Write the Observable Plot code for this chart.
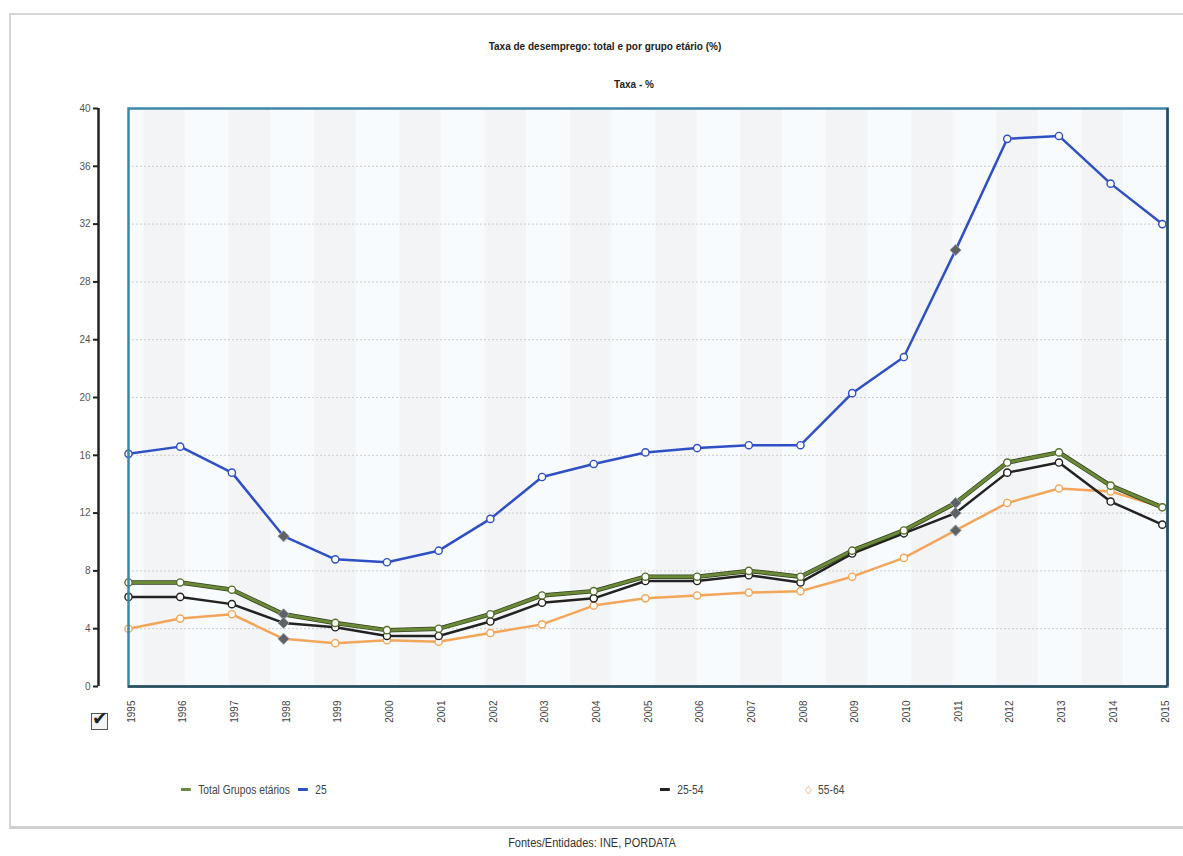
<!DOCTYPE html>
<html><head><meta charset="utf-8">
<script src="https://cdn.jsdelivr.net/npm/d3@7"></script>
<script src="https://cdn.jsdelivr.net/npm/@observablehq/plot@0.6"></script>
<style>
body{margin:0;background:#fff;font-family:"Liberation Sans",Arial,sans-serif;}
#wrap{position:relative;width:1183px;height:856px;overflow:hidden;background:#fff}
#box{position:absolute;left:9px;top:13px;width:1185px;height:816px;border:2px solid #d6d6d6;border-bottom:3px solid #cfcfcf;box-sizing:border-box}
#chart{position:absolute;left:0;top:0}
.t{position:absolute;white-space:nowrap;color:#222;font-weight:bold;font-size:10px;transform:translateX(-50%)}
#legend span.item{position:absolute;top:783px;font-family:"Liberation Sans",Arial,sans-serif;font-size:12.5px;color:#444;white-space:nowrap;transform:scaleX(0.82);transform-origin:left center}
.sw{display:inline-block;width:12px;height:3px;vertical-align:middle;margin-right:9px;position:relative;top:-1px}
#src{position:absolute;top:836px;left:592px;transform:translateX(-50%) scaleX(0.88);font-family:"Liberation Sans",Arial,sans-serif;font-size:12.5px;color:#333;white-space:nowrap}
#chk{position:absolute;left:91px;top:713px;width:15px;height:15px;border:1.5px solid #555;background:#f4f4f4}
#chk b{position:absolute;left:0px;top:-7px;font-family:"DejaVu Sans",sans-serif;font-size:19px;color:#222;font-weight:normal}
</style></head>
<body>
<div id="wrap">
  <div id="box"></div>
  <div id="chart"></div>
  <div class="t" style="left:605px;top:41px">Taxa de desemprego: total e por grupo etário (%)</div>
  <div class="t" style="left:634px;top:79px">Taxa - %</div>
  <div id="chk"><b>✔</b></div>
  <div id="legend"></div>
  <div id="src">Fontes/Entidades: INE, PORDATA</div>
</div>
<script>
// ---- data ----
const years = [1995,1996,1997,1998,1999,2000,2001,2002,2003,2004,2005,2006,2007,2008,2009,2010,2011,2012,2013,2014,2015];
const totalGrupos = [7.2,7.2,6.7,5.0,4.4,3.9,4.0,5.0,6.3,6.6,7.6,7.6,8.0,7.6,9.4,10.8,12.7,15.5,16.2,13.9,12.4];
const menos25 = [16.1,16.6,14.8,10.4,8.8,8.6,9.4,11.6,14.5,15.4,16.2,16.5,16.7,16.7,20.3,22.8,30.2,37.9,38.1,34.8,32.0];
const idade25_54 = [6.2,6.2,5.7,4.4,4.1,3.5,3.5,4.5,5.8,6.1,7.3,7.3,7.7,7.2,9.2,10.6,12.0,14.8,15.5,12.8,11.2];
const idade55_64 = [4.0,4.7,5.0,3.3,3.0,3.2,3.1,3.7,4.3,5.6,6.1,6.3,6.5,6.6,7.6,8.9,10.8,12.7,13.7,13.5,12.4];
const seriesNames = ["Total Grupos etários","25","25-54","55-64"];
const yTicks = [0,4,8,12,16,20,24,28,32,36,40];
const highlightYears = [1998, 2011];

// ---- styling ----
const colors = {"Total Grupos etários":"#6a8a38","25":"#2f4fc4","25-54":"#222222","55-64":"#f2a65a"};
const widths = {"Total Grupos etários":3,"25":2.5,"25-54":2.5,"55-64":2.5};
const valuesBySeries = [totalGrupos, menos25, idade25_54, idade55_64];

const rows = [];
seriesNames.forEach((s, i) => years.forEach((y, j) => rows.push({series: s, year: y, value: valuesBySeries[i][j]})));

const drawOrder = ["55-64","25-54","Total Grupos etários","25"];
const bands = d3.range(12).map(i => ({x1: 1995.3 + i*1.65, x2: 1995.3 + i*1.65 + 0.8})).filter(b => b.x2 < 2015.1);

const lineMarks = [];
for (const s of drawOrder) {
  const d = rows.filter(r => r.series === s);
  if (s === "Total Grupos etários") lineMarks.push(Plot.line(d, {x:"year", y:"value", stroke:"#33401f", strokeWidth:4.5}));
  lineMarks.push(Plot.line(d, {x:"year", y:"value", stroke: colors[s], strokeWidth: widths[s]}));
}
const dotMarks = [];
for (const s of drawOrder) {
  const d = rows.filter(r => r.series === s && !highlightYears.includes(r.year));
  dotMarks.push(Plot.dot(d, {x:"year", y:"value", r:3.6, fill:"white", stroke: s === "Total Grupos etários" ? "#55702c" : colors[s], strokeWidth:1.4}));
}
const hl = rows.filter(r => highlightYears.includes(r.year));

const chart = Plot.plot({
  width: 1183,
  height: 760,
  marginLeft: 128,
  marginRight: 16,
  marginTop: 108,
  marginBottom: 74,
  style: {background: "transparent", fontFamily: "'Liberation Sans', Arial, sans-serif", fontSize: "10px", color: "#555"},
  x: {domain: [1995, 2015.1], axis: null},
  y: {domain: [0, 40], axis: null},
  marks: [
    Plot.frame({fill: "#f8fbfd"}),
    Plot.rect(bands, {x1:"x1", x2:"x2", y1:0, y2:40, fill:"#ebebeb", fillOpacity:0.4}),
    Plot.ruleY(yTicks.filter(d => d > 0 && d < 40), {stroke:"#cccccc", strokeDasharray:"2,2", strokeWidth:1}),
    ...lineMarks,
    ...dotMarks,
    Plot.dot(hl, {x:"year", y:"value", symbol:"diamond2", r:5, fill:"#5e6166", stroke:"#9a9da2", strokeWidth:1}),
    Plot.frame({stroke:"#3f87a8", strokeWidth:2.5}),
    Plot.ruleY([0], {x1:1995, x2:2015.1, stroke:"#2c4d5c", strokeWidth:2.5}),
    Plot.ruleX([2015.1], {y1:0, y2:40, stroke:"#2c4d5c", strokeWidth:2.5}),
    Plot.ruleX([1995], {y1:0, y2:40, dx:-30, stroke:"#222", strokeWidth:2.5}),
    Plot.axisY({ticks: yTicks, label: null, dx:-30, tickSize:5, tickPadding:3, stroke:"#222", strokeWidth:2, fill:"#555", fontSize:10}),
    Plot.axisX({ticks: years, label: null, tickFormat: d => String(d), tickRotate:-90, tickSize:0, tickPadding:14, dx:3, fill:"#444", fontSize:10})
  ]
});
document.getElementById("chart").appendChild(chart);

// ---- legend ----
const legendPos = {"Total Grupos etários":181, "25":298, "25-54":660, "55-64":805};
const leg = document.getElementById("legend");
for (const s of seriesNames) {
  const it = document.createElement("span");
  it.className = "item";
  it.style.left = legendPos[s] + "px";
  if (s === "55-64") {
    it.innerHTML = `<span style="color:${colors[s]};font-size:11px;margin-right:8px;position:relative;top:-1px">◇</span>${s}`;
  } else {
    it.innerHTML = `<span class="sw" style="background:${colors[s]}"></span>${s}`;
  }
  leg.appendChild(it);
}
</script>
</body></html>
